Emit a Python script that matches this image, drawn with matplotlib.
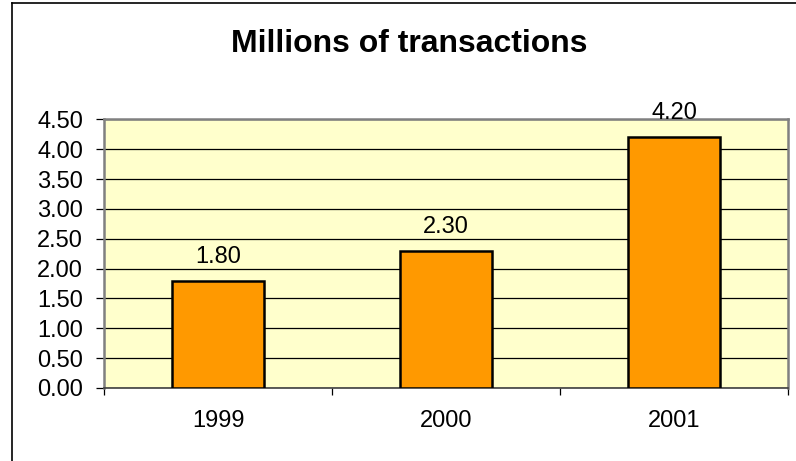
import numpy as np
import matplotlib.pyplot as plt
from matplotlib.lines import Line2D

# data
years = ['1999', '2000', '2001']
transactions = [1.80, 2.30, 4.20]
yticks = [0.0, 0.5, 1.0, 1.5, 2.0, 2.5, 3.0, 3.5, 4.0, 4.5]

plt.rcParams['font.family'] = ['Liberation Sans', 'DejaVu Sans']

fig = plt.figure(figsize=(7.96, 4.61), dpi=100)
ax = fig.add_axes([0.1307, 0.1584, 0.8592, 0.5824])
ax.set_facecolor('#FFFFCC')

x = np.arange(len(years))
ax.bar(x, transactions, width=0.40, color='#FF9900', edgecolor='black',
       linewidth=1.8, zorder=3)

for xi, v in zip(x, transactions):
    ax.annotate(f'{v:.2f}', (xi, v), xytext=(0, 13), textcoords='offset points',
                ha='center', va='baseline', fontsize=17)

ax.set_xlim(-0.5, len(years) - 0.5)
ax.set_ylim(0, 4.5)
ax.set_yticks(yticks)
ax.set_yticklabels([f'{t:.2f}' for t in yticks])
ax.yaxis.grid(True, color='black', linewidth=0.9, zorder=1)
ax.set_axisbelow(True)

ax.set_xticks(x)
ax.set_xticklabels(years)
ax.set_xticks(np.arange(len(years) + 1) - 0.5, minor=True)
ax.tick_params(axis='x', which='major', length=0, pad=16, labelsize=17)
ax.tick_params(axis='x', which='minor', length=5, width=0.9, direction='out')
ax.tick_params(axis='y', length=6, width=0.9, pad=9, labelsize=17)

for side in ['top', 'left', 'right']:
    ax.spines[side].set_color('#808080')
    ax.spines[side].set_linewidth(1.8)
ax.spines['bottom'].set_color('#404040')
ax.spines['bottom'].set_linewidth(1.2)

fig.text(409 / 796, 1 - 52.3 / 461, 'Millions of transactions', ha='center',
         va='baseline', fontsize=23, fontweight='bold')

# outer frame (cropped on right and bottom)
fig.add_artist(Line2D([12 / 796, 1.0], [1 - 3 / 461, 1 - 3 / 461],
                      transform=fig.transFigure, color='black', linewidth=1.2))
fig.add_artist(Line2D([12 / 796, 12 / 796], [0.0, 1 - 3 / 461],
                      transform=fig.transFigure, color='black', linewidth=1.2))

fig.savefig('out.png', dpi=100)
